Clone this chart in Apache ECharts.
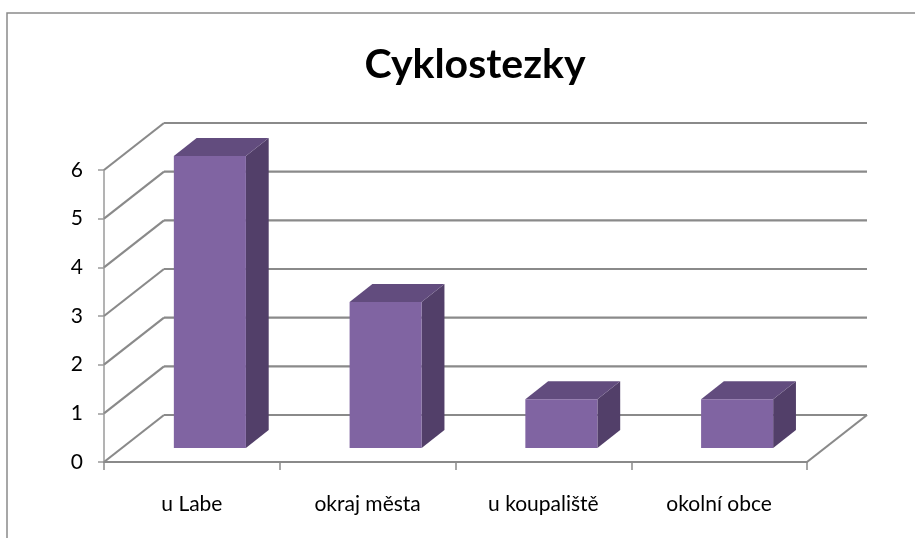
<!DOCTYPE html>
<html lang="cs">
<head>
    <meta charset="UTF-8">
    <title>Cyklostezky</title>
    <script src="https://cdn.jsdelivr.net/npm/echarts@6/dist/echarts.min.js"></script>
    <style>
        html, body { margin: 0; padding: 0; background: #fff; }
        #main { width: 915px; height: 538px; }
    </style>
</head>
<body>
<div id="main"></div>
<script type="text/javascript">
    // data
    var categories = ['u Labe', 'okraj města', 'u koupaliště', 'okolní obce'];
    var values = [6, 3, 1, 1];
    var yTicks = [0, 1, 2, 3, 4, 5, 6];

    // pseudo 3D depth offset (px) of the back wall
    var DX = 60, DY = -47;
    var gridColor = '#8a8a8a';
    var font = 'Lato, "Open Sans", sans-serif';

    var chart = echarts.init(document.getElementById('main'));

    function wallItem(params, api) {
        var v = api.value(1);
        var band = api.size([1, 0])[0];
        var p0 = api.coord([0, v]);
        var xl = p0[0] - band / 2;
        var xr = api.coord([categories.length - 1, v])[0] + band / 2;
        var y = p0[1];
        var style = { stroke: gridColor, lineWidth: 2.2 };
        var children = [
            { type: 'line', shape: { x1: xl, y1: y, x2: xl + DX, y2: y + DY }, style: style },
            { type: 'line', shape: { x1: xl + DX, y1: y + DY, x2: xr + DX, y2: y + DY }, style: style }
        ];
        if (v === 0) {
            children.push({ type: 'line', shape: { x1: xr, y1: y, x2: xr + DX, y2: y + DY }, style: style });
        }
        return { type: 'group', children: children };
    }

    function barItem(params, api) {
        var i = api.value(0), v = api.value(1);
        var band = api.size([1, 0])[0];
        var c0 = api.coord([i, 0]);
        var c1 = api.coord([i, v]);
        var w = band * 0.41;
        var f = 0.3, b = 0.68;
        var ox = DX * f, oy = DY * f;
        var sdx = DX * (b - f), sdy = DY * (b - f);
        var L = c0[0] + ox - w / 2, R = c0[0] + ox + w / 2;
        var top = c1[1] + oy, bot = c0[1] + oy;
        return {
            type: 'group',
            children: [
                { type: 'polygon', shape: { points: [[R, top], [R + sdx, top + sdy], [R + sdx, bot + sdy], [R, bot]] },
                  style: { fill: '#523f69' } },
                { type: 'polygon', shape: { points: [[L, top], [L + sdx, top + sdy], [R + sdx, top + sdy], [R, top]] },
                  style: { fill: '#624c7e' } },
                { type: 'rect', shape: { x: L, y: top, width: w, height: bot - top },
                  style: { fill: '#8064a2' } }
            ]
        };
    }

    chart.setOption({
        animation: false,
        title: {
            text: 'Cyklostezky',
            left: 470,
            top: 39,
            textAlign: 'center',
            textStyle: { fontFamily: font, fontSize: 41, fontWeight: 'bold', color: '#000' }
        },
        graphic: [{
            type: 'rect',
            shape: { x: 7, y: 13, width: 930, height: 560 },
            style: { fill: 'none', stroke: '#8a8a8a', lineWidth: 1.5 },
            silent: true
        }],
        grid: { left: 104, right: 108, top: 170, bottom: 76 },
        xAxis: {
            type: 'category',
            data: categories,
            axisLine: { lineStyle: { color: gridColor, width: 2 } },
            axisTick: { show: true, length: 8, lineStyle: { color: gridColor, width: 1.5 } },
            axisLabel: { margin: 32, fontFamily: font, fontSize: 21, color: '#000' },
            splitLine: { show: false }
        },
        yAxis: {
            type: 'value',
            min: 0,
            max: 6,
            interval: 1,
            axisLine: { show: true, lineStyle: { color: '#9a9a9a', width: 1.5 } },
            axisTick: { show: true, length: 6, lineStyle: { color: '#9a9a9a', width: 1.5 } },
            axisLabel: { margin: 21, fontFamily: font, fontSize: 21, color: '#000' },
            splitLine: { show: false }
        },
        series: [
            {
                type: 'custom',
                renderItem: wallItem,
                data: yTicks.map(function (v) { return [0, v]; }),
                encode: { x: 0, y: 1 },
                silent: true,
                z: 1
            },
            {
                type: 'custom',
                renderItem: barItem,
                data: values.map(function (v, i) { return [i, v]; }),
                encode: { x: 0, y: 1 },
                z: 3
            }
        ]
    });
</script>
</body>
</html>
